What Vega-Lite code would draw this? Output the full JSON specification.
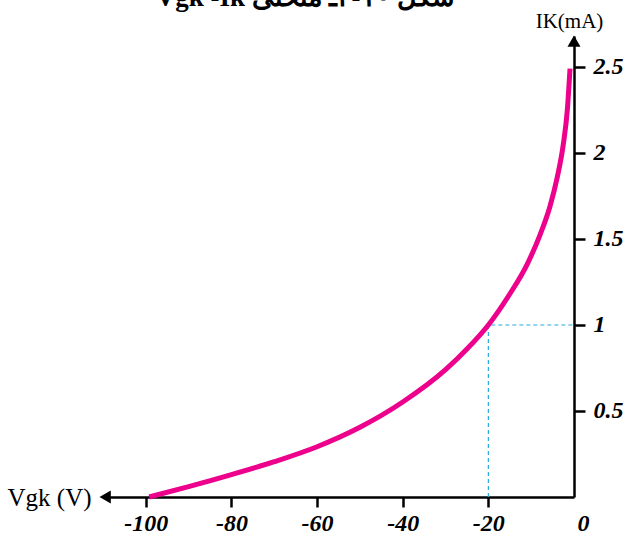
{
  "$schema": "https://vega.github.io/schema/vega-lite/v6.json",
  "width": 471,
  "height": 461,
  "autosize": {"type": "none"},
  "padding": {"left": 103, "top": 36, "right": 56, "bottom": 41},
  "background": "white",
  "title": {
    "text": "Vgk -Ik شکل ۱۰-۲ـ منحنی",
    "font": "Liberation Serif",
    "fontWeight": "bold",
    "fontSize": 27,
    "color": "black",
    "baseline": "alphabetic",
    "offset": 2,
    "dy": 25,
    "dx": -33
  },
  "config": {
    "view": {"stroke": null},
    "axis": {"grid": false}
  },
  "datasets": {
    "curve": [
      {"v": -99.2, "i": 0},
      {"v": -90, "i": 0.06},
      {"v": -80, "i": 0.13},
      {"v": -70, "i": 0.205},
      {"v": -60, "i": 0.292},
      {"v": -50, "i": 0.405},
      {"v": -40, "i": 0.552},
      {"v": -30, "i": 0.74},
      {"v": -25, "i": 0.86},
      {"v": -20, "i": 1.0},
      {"v": -15, "i": 1.18},
      {"v": -11, "i": 1.35},
      {"v": -8, "i": 1.52},
      {"v": -5.6, "i": 1.69},
      {"v": -3.9, "i": 1.86},
      {"v": -2.5, "i": 2.05},
      {"v": -1.56, "i": 2.25},
      {"v": -0.93, "i": 2.49}
    ],
    "guide": [
      {"v": -20, "i": 0, "o": 1},
      {"v": -20, "i": 1, "o": 2},
      {"v": 0, "i": 1, "o": 3}
    ],
    "arrows": [
      {"v": -109.5, "i": 0, "s": "triangle-left"},
      {"v": 0, "i": 2.65, "s": "triangle-up"}
    ]
  },
  "layer": [
    {
      "data": {"name": "guide"},
      "mark": {"type": "line", "color": "#29abe2", "strokeWidth": 1.2, "strokeDash": [4, 3]},
      "encoding": {
        "x": {
          "field": "v", "type": "quantitative",
          "scale": {"domain": [-110, 0], "nice": false, "zero": false},
          "axis": {
            "values": [-100, -80, -60, -40, -20, 0],
            "labelExpr": "'' + datum.value",
            "title": "Vgk (V)",
            "titleFont": "Liberation Serif",
            "titleFontWeight": "normal",
            "titleFontSize": 25,
            "titleColor": "black",
            "titleX": -54,
            "titleY": 8,
            "titleBaseline": "alphabetic",
            "titleAlign": "center",
            "domainColor": "black",
            "domainWidth": 2.5,
            "tickColor": "black",
            "tickWidth": 2.5,
            "tickSize": 10,
            "tickOpacity": {"condition": {"test": "datum.value === 0", "value": 0}, "value": 1},
            "labelOffset": {"condition": {"test": "datum.value === 0", "value": 9}, "value": 0},
            "labelFont": "Liberation Serif",
            "labelFontWeight": "bold",
            "labelFontStyle": "italic",
            "labelFontSize": 24,
            "labelColor": "black",
            "labelPadding": 4,
            "labelFlush": false,
            "labelOverlap": false
          }
        },
        "y": {
          "field": "i", "type": "quantitative",
          "scale": {"domain": [0, 2.68], "nice": false},
          "axis": {
            "orient": "right",
            "values": [0.5, 1, 1.5, 2, 2.5],
            "labelExpr": "'' + datum.value",
            "title": "IK(mA)",
            "titleFont": "Liberation Serif",
            "titleFontWeight": "normal",
            "titleFontSize": 21,
            "titleColor": "black",
            "titleAngle": 0,
            "titleX": -5,
            "titleY": -9,
            "titleBaseline": "alphabetic",
            "titleAlign": "center",
            "domainColor": "black",
            "domainWidth": 2.5,
            "tickColor": "black",
            "tickWidth": 2.5,
            "tickSize": 11,
            "labelFont": "Liberation Serif",
            "labelFontWeight": "bold",
            "labelFontStyle": "italic",
            "labelFontSize": 24,
            "labelColor": "black",
            "labelPadding": 8,
            "labelAlign": "left",
            "labelBaseline": "middle",
            "labelFlush": false,
            "labelOverlap": false
          }
        },
        "order": {"field": "o"}
      }
    },
    {
      "data": {"name": "curve"},
      "mark": {"type": "line", "color": "#ec008c", "strokeWidth": 5, "interpolate": "monotone", "strokeCap": "butt"},
      "encoding": {
        "x": {"field": "v", "type": "quantitative"},
        "y": {"field": "i", "type": "quantitative"}
      }
    },
    {
      "data": {"name": "arrows"},
      "mark": {"type": "point", "filled": true, "color": "black", "opacity": 1, "size": 170},
      "encoding": {
        "x": {"field": "v", "type": "quantitative"},
        "y": {"field": "i", "type": "quantitative"},
        "shape": {"field": "s", "type": "nominal", "scale": null}
      }
    }
  ]
}
